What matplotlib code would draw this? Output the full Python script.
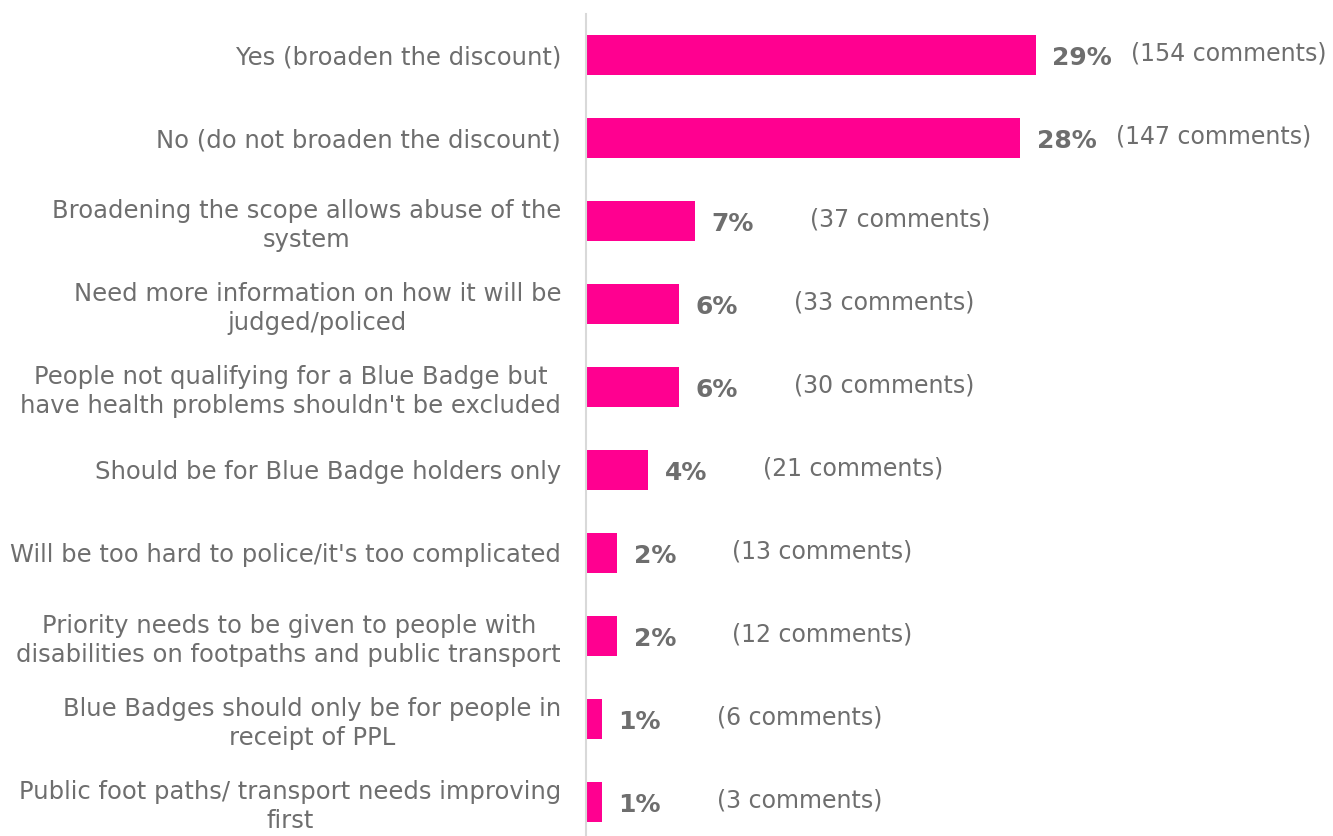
import matplotlib
matplotlib.use("Agg")
import matplotlib.pyplot as plt

# 数据
categories = [
    "Yes (broaden the discount)",
    "No (do not broaden the discount)",
    "Broadening the scope allows abuse of the\nsystem",
    "Need more information on how it will be\njudged/policed",
    "People not qualifying for a Blue Badge but\nhave health problems shouldn't be excluded",
    "Should be for Blue Badge holders only",
    "Will be too hard to police/it's too complicated",
    "Priority needs to be given to people with\ndisabilities on footpaths and public transport",
    "Blue Badges should only be for people in\nreceipt of PPL",
    "Public foot paths/ transport needs improving\nfirst",
]
percents = [29, 28, 7, 6, 6, 4, 2, 2, 1, 1]
comments = [154, 147, 37, 33, 30, 21, 13, 12, 6, 3]

pink = "#FF0090"
grey = "#6E6E6E"

plt.rcParams['font.family'] = ['DejaVu Sans']

fig = plt.figure(figsize=(13.33, 8.36), dpi=100)
ax = fig.add_axes([586 / 1333, 0, 1 - 586 / 1333, (836 - 13.5) / 836])

y = range(len(categories))
ax.barh(y, percents, height=0.49, color=pink)

for i, (p, c) in enumerate(zip(percents, comments)):
    ax.annotate(f"{p}%", (p, i), xytext=(12, -2), textcoords="offset points",
                ha="left", va="center", fontsize=18, fontweight="bold", color=grey)
    off = 69 if p >= 10 else 83
    ax.annotate(f"({c} comments)", (p, i), xytext=(off, 1), textcoords="offset points",
                ha="left", va="center", fontsize=17, color=grey)

ax.set_yticks(list(y))
ax.set_yticklabels(categories, fontsize=17.5, color=grey, ha="right",
                   multialignment="center", linespacing=1.25)
ax.tick_params(axis="y", length=0, pad=18)
ax.set_xticks([])
ax.set_xlim(0, 747 / 15.5)
ax.set_ylim(9.41, -0.5)

for s in ["top", "right", "bottom"]:
    ax.spines[s].set_visible(False)
ax.spines["left"].set_color("#D9D9D9")
ax.spines["left"].set_linewidth(1.5)

fig.savefig("out.png", dpi=100)
